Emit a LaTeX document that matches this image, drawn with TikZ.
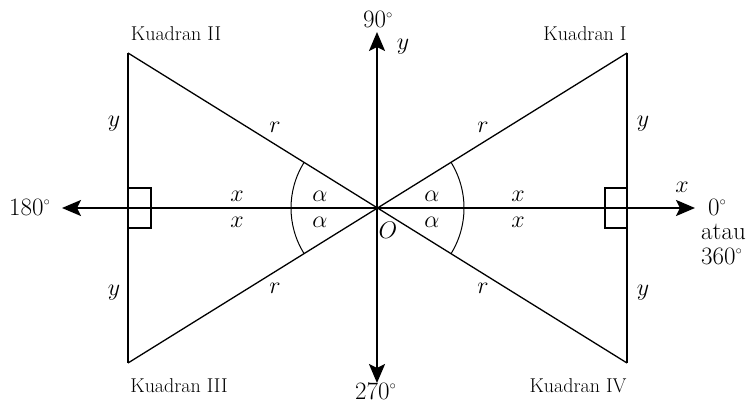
\RequirePackage{fix-cm}
\documentclass[tikz,border=0pt]{standalone}
\usepackage{fontspec}
\usetikzlibrary{arrows.meta}
\newcommand{\dg}{$^{\scriptscriptstyle\circ}$}
\begin{document}
\begin{tikzpicture}[x=1pt,y=1pt,
  axis/.style={line width=2.4pt,-{Stealth[length=19pt,width=16pt,inset=4pt]}},
  edge/.style={line width=1.3pt},
  lbl/.style={inner sep=0pt,anchor=base,font=\fontsize{24}{26}\selectfont},
  num/.style={inner sep=0pt,anchor=base west,font=\fontsize{25}{27}\selectfont},
  quad/.style={inner sep=0pt,anchor=base,font=\fontsize{20}{22}\selectfont}]
\useasboundingbox (0,0) rectangle (751,410);
% points
\coordinate (O) at (377,202);
\coordinate (A) at (128,357);
\coordinate (B) at (627,357);
\coordinate (C) at (128,47);
\coordinate (D) at (627,47);
\coordinate (L) at (62,202);
\coordinate (R) at (695,202);
\coordinate (T) at (377,378);
\coordinate (Bo) at (377,27);
% triangles
\draw[edge] (A) -- (D);
\draw[edge] (B) -- (C);
\draw[edge] (A) -- (C);
\draw[edge] (B) -- (D);
% right angle marks
\draw[edge] (128,222) rectangle (151,182);
\draw[edge] (605,222) rectangle (627,182);
% arcs
\draw[line width=1pt] ([shift={(148.1:86pt)}]O) arc[start angle=148.1,end angle=211.9,radius=86pt];
\draw[line width=1pt] ([shift={(-31.9:87pt)}]O) arc[start angle=-31.9,end angle=31.9,radius=87pt];
% axes
\draw[axis] (O) -- (L);
\draw[axis] (O) -- (R);
\draw[axis] (O) -- (T);
\draw[axis] (O) -- (Bo);
% quadrant labels
\node[quad] (q2) at (176,369) {Kuadran II};
\node[quad] (q1) at (585,369) {Kuadran I};
\node[quad] (q3) at (179,18) {Kuadran III};
\node[quad] (q4) at (578,18) {Kuadran IV};
% angle labels
\node[num] (d90) at (363,382) {90\dg};
\node[num] (d270) at (355,11) {270\dg};
\node[num] (d180) at (9,195) {180\dg};
\node[num] (d0) at (708,195) {0\dg};
\node[num] (atau) at (701,171) {atau};
\node[num] (d360) at (701,146) {360\dg};
\node[lbl] (ax) at (682,218) {$x$};
\node[lbl] (ay) at (403,360) {$y$};
% y labels
\node[lbl] (y1) at (114,283) {$y$};
\node[lbl] (y2) at (643,283) {$y$};
\node[lbl] (y3) at (114,115) {$y$};
\node[lbl] (y4) at (643,115) {$y$};
% r labels
\node[lbl] (r1) at (275,277) {$r$};
\node[lbl] (r2) at (483,277) {$r$};
\node[lbl] (r3) at (275,117) {$r$};
\node[lbl] (r4) at (483,117) {$r$};
% x labels
\node[lbl] (x1) at (237,209) {$x$};
\node[lbl] (x2) at (237,183) {$x$};
\node[lbl] (x3) at (518,209) {$x$};
\node[lbl] (x4) at (518,183) {$x$};
% alpha labels
\node[lbl] (a1) at (320,209) {$\alpha$};
\node[lbl] (a2) at (320,183) {$\alpha$};
\node[lbl] (a3) at (432,209) {$\alpha$};
\node[lbl] (a4) at (432,183) {$\alpha$};
\node[lbl] (o) at (388,172) {$O$};
\end{tikzpicture}
\end{document}
